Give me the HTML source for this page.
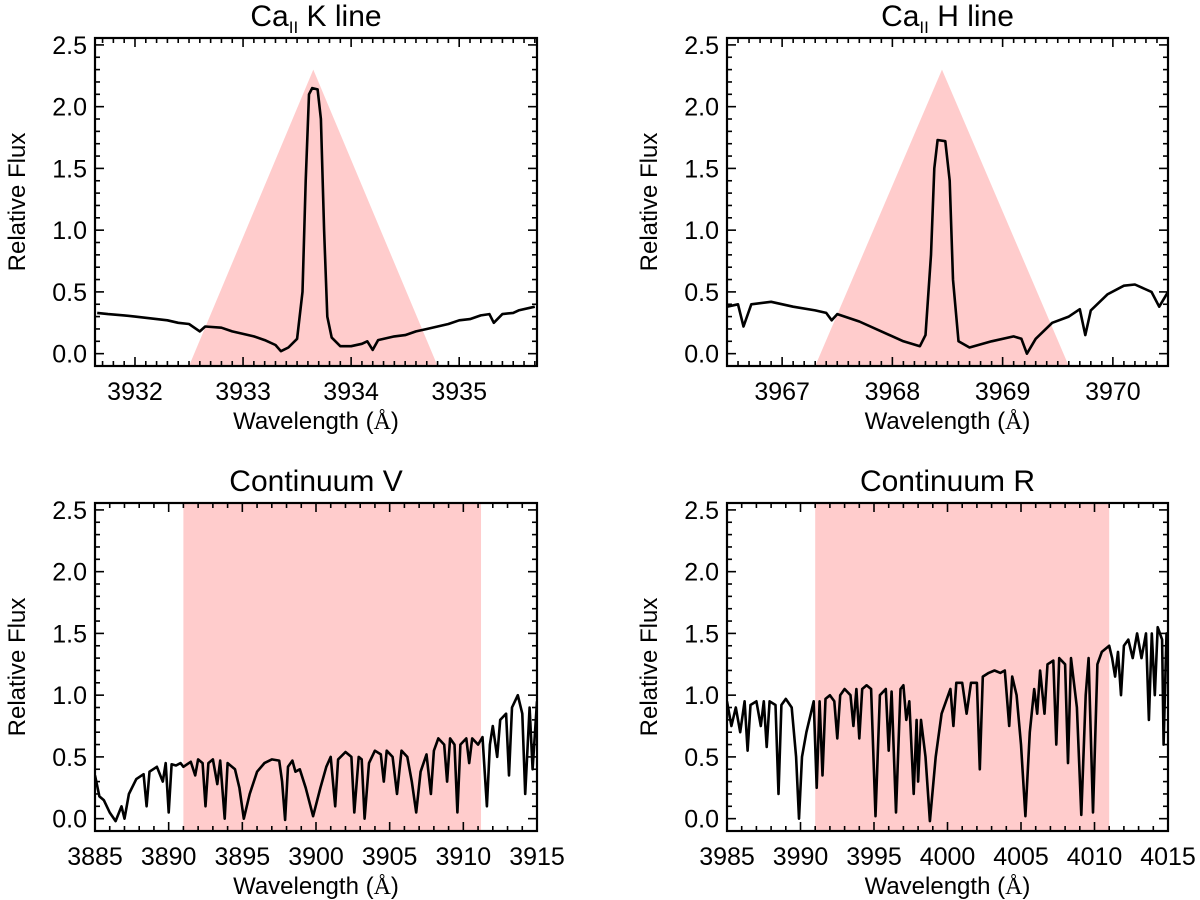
<!DOCTYPE html>
<html><head><meta charset="utf-8"><style>
body{margin:0;background:#fff}
svg{display:block;font-family:"Liberation Sans",Arial,sans-serif}
</style></head><body>
<svg id="fig" width="1200" height="900"></svg>
<script>
// ---- data ----
const kLineWave=[3931.65,3931.75,3931.9,3932.0,3932.1,3932.2,3932.3,3932.4,3932.5,3932.6,3932.65,3932.8,3932.9,3933.0,3933.1,3933.2,3933.3,3933.35,3933.42,3933.5,3933.55,3933.58,3933.61,3933.64,3933.69,3933.72,3933.75,3933.78,3933.82,3933.9,3934.0,3934.1,3934.15,3934.2,3934.25,3934.4,3934.5,3934.6,3934.7,3934.8,3934.9,3935.0,3935.1,3935.2,3935.28,3935.32,3935.4,3935.5,3935.55,3935.7];
const kLineFlux=[0.33,0.32,0.31,0.30,0.29,0.28,0.27,0.25,0.24,0.18,0.22,0.21,0.18,0.16,0.14,0.11,0.07,0.02,0.05,0.12,0.5,1.4,2.1,2.15,2.14,1.9,1.0,0.3,0.13,0.06,0.06,0.08,0.1,0.03,0.11,0.14,0.15,0.18,0.20,0.22,0.24,0.27,0.28,0.31,0.32,0.25,0.32,0.33,0.35,0.38];
const hLineWave=[3966.5,3966.6,3966.65,3966.72,3966.9,3967.1,3967.3,3967.4,3967.45,3967.5,3967.7,3967.9,3968.1,3968.25,3968.3,3968.35,3968.38,3968.41,3968.48,3968.52,3968.55,3968.6,3968.7,3968.9,3969.1,3969.17,3969.22,3969.3,3969.45,3969.6,3969.7,3969.75,3969.8,3969.95,3970.1,3970.2,3970.35,3970.42,3970.5];
const hLineFlux=[0.38,0.40,0.22,0.40,0.42,0.38,0.35,0.33,0.27,0.32,0.26,0.18,0.10,0.06,0.15,0.8,1.5,1.73,1.72,1.4,0.6,0.1,0.05,0.1,0.14,0.12,0.0,0.12,0.25,0.3,0.36,0.15,0.35,0.48,0.55,0.56,0.50,0.38,0.5];
const vWave=[3885,3885.3,3885.6,3886,3886.4,3886.8,3887,3887.3,3887.8,3888.3,3888.5,3888.7,3889.2,3889.6,3889.8,3890,3890.2,3890.5,3890.8,3891,3891.5,3891.8,3892,3892.3,3892.5,3892.7,3893,3893.3,3893.5,3893.8,3894,3894.5,3894.8,3895.1,3895.5,3896,3896.5,3897,3897.5,3897.7,3897.9,3898.1,3898.4,3898.6,3898.9,3899.3,3899.8,3900.3,3900.7,3901,3901.3,3901.5,3902,3902.4,3902.6,3902.9,3903.1,3903.3,3903.6,3904,3904.4,3904.6,3904.8,3905.2,3905.5,3905.8,3906.2,3906.5,3906.8,3907.1,3907.5,3907.8,3908,3908.3,3908.7,3908.9,3909.1,3909.4,3909.6,3909.8,3910.2,3910.4,3910.6,3911,3911.3,3911.6,3911.8,3912,3912.3,3912.5,3912.9,3913.1,3913.3,3913.7,3914,3914.2,3914.5,3914.7,3915];
const vFlux=[0.35,0.18,0.15,0.05,-0.02,0.1,0.0,0.2,0.32,0.36,0.1,0.38,0.42,0.3,0.45,0.05,0.44,0.43,0.45,0.42,0.46,0.35,0.48,0.45,0.1,0.45,0.48,0.28,0.47,0.0,0.45,0.40,0.25,0.0,0.2,0.38,0.45,0.48,0.47,0.3,-0.01,0.42,0.47,0.38,0.4,0.25,0.02,0.25,0.42,0.5,0.1,0.48,0.54,0.5,0.05,0.5,0.48,0.0,0.45,0.55,0.52,0.3,0.55,0.5,0.2,0.55,0.5,0.3,0.05,0.38,0.52,0.2,0.55,0.65,0.6,0.3,0.65,0.6,0.05,0.6,0.65,0.45,0.65,0.6,0.66,0.1,0.6,0.75,0.5,0.8,0.85,0.35,0.9,1.0,0.85,0.2,0.9,0.4,0.95];
const rWave=[3985,3985.3,3985.6,3985.9,3986.2,3986.4,3986.6,3987,3987.3,3987.5,3987.7,3987.9,3988.3,3988.5,3988.7,3989,3989.4,3989.7,3989.9,3990.1,3990.4,3990.7,3990.9,3991.1,3991.3,3991.5,3991.7,3992,3992.3,3992.5,3992.7,3993,3993.4,3993.6,3993.8,3994,3994.2,3994.5,3994.8,3995.1,3995.4,3995.8,3996,3996.2,3996.5,3996.8,3997,3997.2,3997.4,3997.7,3997.9,3998,3998.2,3998.5,3998.8,3999.2,3999.6,3999.9,4000.2,4000.4,4000.6,4001,4001.3,4001.6,4002,4002.2,4002.4,4002.8,4003.2,4003.6,4003.9,4004.2,4004.4,4004.7,4005,4005.3,4005.6,4005.9,4006.1,4006.3,4006.6,4006.8,4007.2,4007.4,4007.6,4008,4008.2,4008.4,4008.8,4009.1,4009.4,4009.6,4009.9,4010.2,4010.5,4011,4011.2,4011.4,4011.6,4011.8,4012,4012.3,4012.6,4012.9,4013.2,4013.5,4013.7,4013.9,4014.1,4014.3,4014.6,4014.7,4014.9,4015];
const rFlux=[0.95,0.75,0.9,0.7,0.95,0.55,0.92,0.95,0.75,0.95,0.58,0.95,0.92,0.2,0.92,0.97,0.9,0.5,0.0,0.5,0.7,0.85,0.95,0.25,0.95,0.35,0.97,1.0,0.95,0.65,1.0,1.05,1.0,0.75,1.05,0.65,1.05,1.08,1.05,0.02,1.0,1.05,0.55,1.03,0.05,1.05,1.08,0.8,0.95,0.2,0.8,0.3,0.8,0.5,-0.02,0.5,0.85,0.95,1.05,0.75,1.1,1.1,0.85,1.1,1.1,0.4,1.15,1.18,1.2,1.18,1.2,0.75,1.15,1.0,0.6,0.02,0.7,1.05,0.85,1.2,0.85,1.25,1.28,0.6,1.3,1.25,0.45,1.3,0.9,0.03,1.0,1.3,0.05,1.25,1.35,1.4,1.3,1.15,1.35,1.0,1.4,1.45,1.3,1.5,1.3,1.5,0.8,1.5,1.0,1.55,1.45,0.6,1.5,1.45];
const kTicks=[3932,3933,3934,3935];
const hTicks=[3967,3968,3969,3970];
const vTicks=[3885,3890,3895,3900,3905,3910,3915];
const rTicks=[3985,3990,3995,4000,4005,4010,4015];
const yTicks=[0,0.5,1.0,1.5,2.0,2.5];
const kWindow=[3932.5,3933.65,3934.8,2.3];
const hWindow=[3967.3,3968.45,3969.6,2.3];
const vBand=[3891,3911.2];
const rBand=[3991,4011];

const NS="http://www.w3.org/2000/svg";
const svg=document.getElementById('fig');
function mk(tag,attrs,parent){const e=document.createElementNS(NS,tag);for(const k in attrs)e.setAttribute(k,attrs[k]);(parent||svg).appendChild(e);return e;}

function panel(o){
  const g=mk('g',{});
  
  
  const L=o.L,R=o.R,T=o.T,B=o.B;
  const ymin=-0.1,ymax=2.556;
  const sx=v=>L+(v-o.xmin)/(o.xmax-o.xmin)*(R-L);
  const sy=v=>B-(v-ymin)/(ymax-ymin)*(B-T);
  let sh;
  if(o.tri){
    sh=mk('polygon',{points:`${sx(o.tri[0])},${B} ${sx(o.tri[1])},${sy(o.tri[3])} ${sx(o.tri[2])},${B}`,fill:'#ffcccc'},g);
  } else {
    sh=mk('rect',{x:sx(o.band[0]),y:T,width:sx(o.band[1])-sx(o.band[0]),height:B-T,fill:'#ffcccc'},g);
  }
  
  
  const cp=mk('clipPath',{id:'c'+o.name},g);
  mk('rect',{x:L,y:T,width:R-L,height:B-T},cp);
  let d='';
  o.wx.forEach((w,i)=>{d+=(i?'L':'M')+sx(w).toFixed(1)+','+sy(o.fy[i]).toFixed(1);});
  const line=mk('path',{d:d,fill:'none',stroke:'#000','stroke-width':2.6,'stroke-linejoin':'round','clip-path':`url(#c${o.name})`},g);
  
  
  const fr=mk('rect',{x:L,y:T,width:R-L,height:B-T,fill:'none',stroke:'#000','stroke-width':2.2},g);
  
  
  for(let v=0;v<=2.5001;v+=0.1){
    const major=Math.abs(v*2-Math.round(v*2))<1e-6;const len=major?9:5;const y=sy(v);
    mk('line',{x1:L,x2:L+len,y1:y,y2:y,stroke:'#000','stroke-width':1.6},g);
    mk('line',{x1:R,x2:R-len,y1:y,y2:y,stroke:'#000','stroke-width':1.6},g);
  }
  yTicks.forEach(v=>{
    const t=mk('text',{x:L-8,y:sy(v)+9,'text-anchor':'end','font-size':25},g);t.textContent=v.toFixed(1);
    
    
  });
  const start=Math.ceil(o.xmin/o.minor)*o.minor;
  for(let v=start;v<=o.xmax+1e-6;v+=o.minor){
    const major=o.ticks.some(t=>Math.abs(t-v)<1e-6);const len=major?9:5;const x=sx(v);
    mk('line',{x1:x,x2:x,y1:B,y2:B-len,stroke:'#000','stroke-width':1.6},g);
    mk('line',{x1:x,x2:x,y1:T,y2:T+len,stroke:'#000','stroke-width':1.6},g);
  }
  o.ticks.forEach(v=>{
    const t=mk('text',{x:sx(v),y:B+34,'text-anchor':'middle','font-size':25},g);t.textContent=v;
    
    
  });
  const xl=mk('text',{x:(L+R)/2,y:B+63,'text-anchor':'middle','font-size':24},g);
  xl.innerHTML='Wavelength (<tspan font-family="Liberation Serif">Å</tspan>)';
  
  
  const yl=mk('text',{x:0,y:0,'text-anchor':'middle','font-size':24,transform:`translate(${L-70},${(T+B)/2}) rotate(-90)`},g);
  yl.textContent='Relative Flux';
  
  
  const ti=mk('text',{x:(L+R)/2,y:T-12,'text-anchor':'middle','font-size':30},g);
  ti.innerHTML=o.title;
  
  
}
panel({name:'ca-k-panel',L:95,R:537,T:38,B:366,xmin:3931.63,xmax:3935.72,minor:0.1,ticks:kTicks,wx:kLineWave,fy:kLineFlux,tri:kWindow,title:'Ca<tspan font-size="17" dy="7">II</tspan><tspan dy="-7"> K line</tspan>'});
panel({name:'ca-h-panel',L:727,R:1168,T:38,B:366,xmin:3966.5,xmax:3970.5,minor:0.1,ticks:hTicks,wx:hLineWave,fy:hLineFlux,tri:hWindow,title:'Ca<tspan font-size="17" dy="7">II</tspan><tspan dy="-7"> H line</tspan>'});
panel({name:'continuum-v-panel',L:95,R:537,T:503,B:831,xmin:3885,xmax:3915,minor:1,ticks:vTicks,wx:vWave,fy:vFlux,band:vBand,title:'Continuum V'});
panel({name:'continuum-r-panel',L:727,R:1168,T:503,B:831,xmin:3985,xmax:4015,minor:1,ticks:rTicks,wx:rWave,fy:rFlux,band:rBand,title:'Continuum R'});
</script>
</body></html>
